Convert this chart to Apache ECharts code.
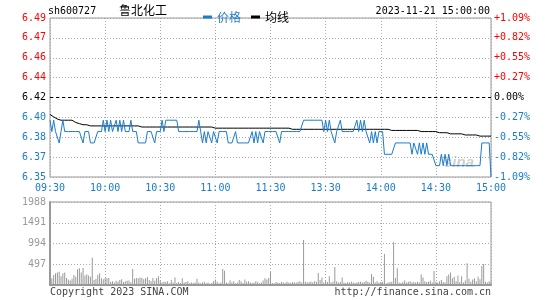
<!DOCTYPE html>
<html><head><meta charset="utf-8">
<script src="https://cdn.jsdelivr.net/npm/echarts@6/dist/echarts.min.js"></script>
<style>html,body{margin:0;padding:0;background:#fff}#c{width:545px;height:300px}</style>
</head><body><div id="c"></div>
<script>
const stockCode = 'sh600727';
const stockName = '鲁北化工';
const dateTime = '2023-11-21 15:00:00';
const prevClose = 6.42;
const priceMin = 6.35, priceMax = 6.49;
const volMax = 1988, volStep = 497;
const priceTickLabels = ['6.35','6.37','6.38','6.40','6.42','6.44','6.46','6.47','6.49'];
const pctTickLabels = ['-1.09%','-0.82%','-0.55%','-0.27%','0.00%','+0.27%','+0.55%','+0.82%','+1.09%'];
const copyrightText = 'Copyright 2023 SINA.COM';
const siteText = 'http://finance.sina.com.cn';

const price = [
6.40,6.39,6.40,6.39,6.39,6.38,6.39,6.40,6.39,6.39,
6.39,6.39,6.39,6.39,6.39,6.39,6.39,6.39,6.38,6.39,
6.39,6.39,6.38,6.38,6.38,6.38,6.39,6.39,6.39,6.40,
6.39,6.40,6.39,6.40,6.39,6.39,6.40,6.39,6.40,6.39,
6.40,6.39,6.39,6.39,6.40,6.39,6.39,6.39,6.38,6.38,
6.38,6.38,6.38,6.39,6.39,6.39,6.39,6.38,6.39,6.39,
6.39,6.40,6.39,6.40,6.40,6.40,6.40,6.40,6.40,6.40,
6.39,6.39,6.39,6.39,6.39,6.39,6.39,6.39,6.39,6.39,
6.39,6.40,6.39,6.38,6.39,6.38,6.39,6.39,6.38,6.39,
6.39,6.38,6.39,6.39,6.39,6.39,6.39,6.38,6.38,6.38,
6.38,6.39,6.38,6.38,6.38,6.38,6.38,6.38,6.38,6.38,
6.39,6.38,6.39,6.38,6.39,6.39,6.38,6.39,6.39,6.39,
6.39,6.39,6.39,6.39,6.39,6.38,6.39,6.39,6.39,6.39,
6.39,6.39,6.39,6.39,6.39,6.39,6.39,6.39,6.40,6.40,
6.40,6.40,6.40,6.40,6.40,6.40,6.40,6.40,6.40,6.39,
6.40,6.39,6.40,6.39,6.39,6.38,6.39,6.39,6.40,6.39,
6.39,6.39,6.39,6.39,6.39,6.39,6.39,6.40,6.39,6.40,
6.39,6.40,6.39,6.39,6.38,6.39,6.38,6.39,6.38,6.39,
6.39,6.39,6.37,6.37,6.37,6.37,6.37,6.37,6.38,6.38,
6.38,6.38,6.38,6.38,6.38,6.38,6.38,6.37,6.38,6.38,
6.37,6.38,6.37,6.38,6.37,6.38,6.37,6.37,6.37,6.37,
6.36,6.36,6.36,6.37,6.36,6.37,6.36,6.37,6.36,6.36,
6.36,6.36,6.36,6.36,6.36,6.36,6.36,6.36,6.36,6.36,
6.36,6.36,6.36,6.36,6.36,6.38,6.38,6.38,6.38,6.38,
6.35
];

const avgPrice = [
6.405,6.404,6.403,6.402,6.401,6.400,6.400,6.400,6.400,6.400,
6.400,6.400,6.400,6.399,6.398,6.397,6.397,6.396,6.396,6.396,
6.396,6.396,6.395,6.395,6.395,6.395,6.395,6.395,6.395,6.395,
6.395,6.395,6.395,6.395,6.395,6.395,6.395,6.395,6.395,6.395,
6.395,6.395,6.395,6.395,6.395,6.395,6.395,6.395,6.395,6.395,
6.394,6.394,6.394,6.394,6.394,6.394,6.394,6.394,6.394,6.394,
6.394,6.394,6.394,6.394,6.394,6.394,6.394,6.394,6.394,6.394,
6.394,6.394,6.394,6.394,6.394,6.394,6.394,6.394,6.394,6.394,
6.394,6.394,6.394,6.394,6.394,6.394,6.394,6.394,6.394,6.394,
6.393,6.393,6.393,6.393,6.393,6.393,6.393,6.393,6.393,6.393,
6.393,6.393,6.393,6.393,6.393,6.393,6.393,6.393,6.393,6.393,
6.393,6.393,6.393,6.393,6.393,6.393,6.393,6.393,6.393,6.393,
6.393,6.393,6.393,6.393,6.393,6.393,6.393,6.393,6.393,6.393,
6.393,6.392,6.392,6.392,6.392,6.392,6.392,6.392,6.392,6.392,
6.392,6.392,6.392,6.392,6.392,6.392,6.392,6.392,6.392,6.392,
6.392,6.392,6.392,6.392,6.392,6.392,6.392,6.392,6.392,6.392,
6.392,6.392,6.392,6.392,6.392,6.392,6.392,6.392,6.392,6.392,
6.392,6.392,6.392,6.392,6.392,6.392,6.392,6.392,6.392,6.392,
6.392,6.392,6.392,6.392,6.392,6.391,6.391,6.391,6.391,6.391,
6.391,6.391,6.391,6.391,6.391,6.391,6.391,6.391,6.391,6.391,
6.391,6.390,6.390,6.390,6.390,6.390,6.390,6.390,6.390,6.390,
6.390,6.390,6.389,6.389,6.389,6.389,6.389,6.389,6.388,6.388,
6.388,6.388,6.388,6.388,6.388,6.388,6.387,6.387,6.387,6.387,
6.387,6.387,6.387,6.386,6.386,6.386,6.386,6.386,6.386,6.386,
6.386
];

const volume = [
220,160,240,280,300,320,210,280,300,170,
130,110,150,240,200,380,400,300,410,230,
260,230,200,650,120,150,240,280,160,140,
170,160,170,80,90,60,100,80,120,140,
70,90,100,110,60,385,150,170,160,180,
170,140,160,190,120,90,170,100,170,210,
110,60,80,70,90,40,120,60,180,50,
70,50,160,60,70,90,40,60,50,60,
150,60,40,60,80,40,60,30,50,90,
130,80,40,60,385,340,60,40,110,60,
90,40,60,120,90,50,130,80,90,60,
50,60,90,70,40,60,110,160,130,170,
320,50,40,70,60,50,70,60,50,80,
60,50,70,60,60,70,90,60,1080,80,
60,70,80,60,90,80,290,120,180,60,
100,70,210,60,80,430,90,60,70,180,
60,50,70,60,80,60,50,60,70,80,
60,70,100,80,60,265,200,60,90,60,
70,80,745,40,60,70,80,1025,170,400,
60,50,70,110,60,80,90,60,70,60,
80,60,250,180,90,70,80,100,60,335,
80,60,90,120,70,60,210,250,300,160,
200,90,230,70,210,60,110,520,150,80,
130,160,90,200,140,456,500,80,60,90,
60
];

// minute categories: 09:30..11:30 then 13:01..15:00
const times = [];
for (let i = 0; i < price.length; i++) {
  let t = i <= 120 ? 9 * 60 + 30 + i : 13 * 60 + (i - 120);
  const h = Math.floor(t / 60), m = t % 60;
  times.push((h < 10 ? '0' : '') + h + ':' + (m < 10 ? '0' : '') + m);
}

const BLUE = '#1a7ccc';
const RED = '#ff0000';
const MONO = 'DejaVu Sans Mono';
const CJK = 'Noto Sans CJK SC';
const tickEvery = (i) => i % 30 === 0;
const dotted = { color: '#aaaaaa', type: [1, 2], width: 1 };

const chart = echarts.init(document.getElementById('c'), null, { renderer: 'canvas' });
chart.setOption({
  animation: false,
  backgroundColor: '#fff',
  grid: [
    { left: 50, right: 54, top: 18, height: 159, show: true, borderColor: '#999', borderWidth: 1, backgroundColor: 'transparent' },
    { left: 50, right: 54, top: 202, height: 83, show: true, borderColor: '#999', borderWidth: 1, backgroundColor: 'transparent' }
  ],
  legend: {
    left: 198, top: 6, itemWidth: 9, itemHeight: 3, itemGap: 10, icon: 'rect',
    textStyle: { fontFamily: CJK, fontSize: 12, padding: [0, 0, 0, 0] },
    data: [
      { name: '价格', textStyle: { color: BLUE } },
      { name: '均线', textStyle: { color: '#000' } }
    ]
  },
  graphic: [
    { type: 'text', left: 48, top: 6, style: { text: stockCode, font: '10px ' + MONO, fill: '#000' } },
    { type: 'text', left: 119, top: 4, style: { text: stockName, font: '12px ' + CJK, fill: '#000' } },
    { type: 'text', right: 55, top: 6, style: { text: dateTime, font: '10px ' + MONO, fill: '#000' } },
    { type: 'text', left: 50, top: 287, style: { text: copyrightText, font: '10px ' + MONO, fill: '#444' } },
    { type: 'text', right: 54, top: 287, style: { text: siteText, font: '10px ' + MONO, fill: '#444' } },
    { type: 'text', left: 444, top: 155, style: { text: 'sina', font: 'italic bold 15px sans-serif', fill: 'rgba(150,150,150,0.45)' } }
  ],
  xAxis: [
    {
      type: 'category', gridIndex: 0, data: times, boundaryGap: false,
      axisLine: { show: false }, axisTick: { show: false },
      axisLabel: { interval: tickEvery, color: BLUE, fontFamily: MONO, fontSize: 10, margin: 6 },
      splitLine: { show: true, interval: tickEvery, lineStyle: dotted }
    },
    {
      type: 'category', gridIndex: 1, data: times, boundaryGap: false,
      axisLine: { show: true, lineStyle: { color: '#999', width: 2 } }, axisTick: { show: false },
      axisLabel: { show: false },
      splitLine: { show: true, interval: tickEvery, lineStyle: dotted }
    }
  ],
  yAxis: [
    { type: 'value', gridIndex: 0, min: priceMin, max: priceMax, show: false },
    {
      type: 'value', gridIndex: 0, min: 0, max: priceTickLabels.length - 1, interval: 1, position: 'left',
      axisLine: { show: false }, axisTick: { show: false },
      axisLabel: {
        margin: 4, fontFamily: MONO, fontSize: 10,
        formatter: (v) => {
          const k = Math.round(v);
          const s = k > 4 ? 'r' : (k === 4 ? 'k' : 'b');
          return '{' + s + '|' + priceTickLabels[k] + '}';
        },
        rich: {
          r: { color: RED, fontFamily: MONO, fontSize: 10 },
          k: { color: '#000', fontFamily: MONO, fontSize: 10 },
          b: { color: BLUE, fontFamily: MONO, fontSize: 10 }
        }
      },
      splitLine: { show: true, lineStyle: dotted }
    },
    {
      type: 'value', gridIndex: 0, min: 0, max: pctTickLabels.length - 1, interval: 1, position: 'right',
      axisLine: { show: false }, axisTick: { show: false },
      axisLabel: {
        margin: 3, fontFamily: MONO, fontSize: 10,
        formatter: (v) => {
          const k = Math.round(v);
          const s = k > 4 ? 'r' : (k === 4 ? 'k' : 'b');
          return '{' + s + '|' + pctTickLabels[k] + '}';
        },
        rich: {
          r: { color: RED, fontFamily: MONO, fontSize: 10 },
          k: { color: '#000', fontFamily: MONO, fontSize: 10 },
          b: { color: BLUE, fontFamily: MONO, fontSize: 10 }
        }
      },
      splitLine: { show: false }
    },
    {
      type: 'value', gridIndex: 1, min: 0, max: volMax, interval: volStep,
      axisLine: { show: true, lineStyle: { color: '#999', width: 2 } }, axisTick: { show: false },
      axisLabel: { margin: 4, color: '#999', fontFamily: MONO, fontSize: 10, formatter: (v) => v === 0 ? '' : String(v) },
      splitLine: { show: true, lineStyle: dotted }
    }
  ],
  series: [
    {
      name: '价格', type: 'line', xAxisIndex: 0, yAxisIndex: 0, data: price,
      showSymbol: false, color: BLUE, lineStyle: { width: 1, color: BLUE }, z: 3,
      markLine: {
        silent: true, symbol: ['none', 'none'], label: { show: false },
        lineStyle: { color: '#000', type: [3, 3], width: 1 },
        data: [{ yAxis: prevClose }]
      }
    },
    {
      name: '均线', type: 'line', xAxisIndex: 0, yAxisIndex: 0, data: avgPrice,
      showSymbol: false, color: '#000', lineStyle: { width: 1, color: '#000' }, z: 2
    },
    {
      name: '成交量', type: 'bar', xAxisIndex: 1, yAxisIndex: 3, data: volume,
      barWidth: 1, itemStyle: { color: '#999' }
    }
  ]
});
</script>
</body></html>
